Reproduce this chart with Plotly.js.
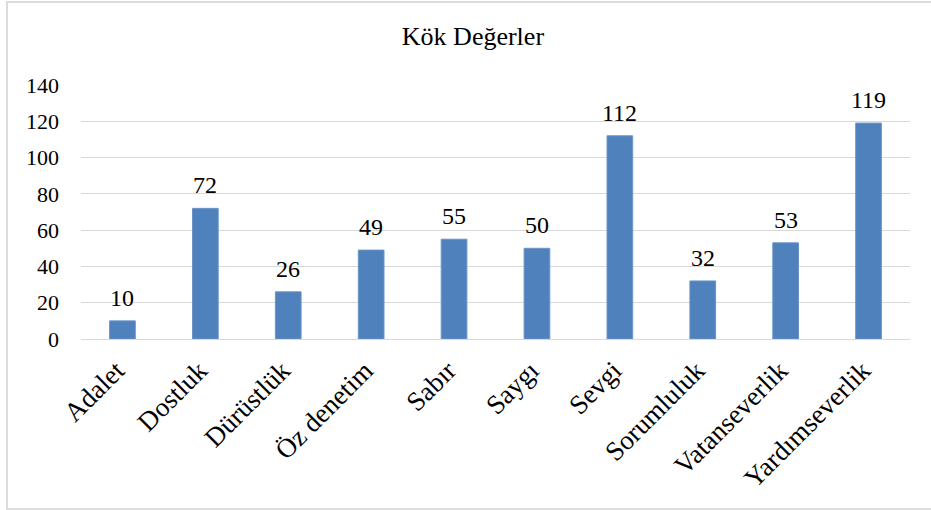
<!DOCTYPE html>
<html>
<head>
<meta charset="utf-8">
<script src="https://cdn.plot.ly/plotly-3.0.1.min.js"></script>
<style>
html,body{margin:0;padding:0;background:#fff;overflow:hidden;}
#frame{position:absolute;left:6px;top:1px;width:940px;height:509px;border:2px solid #dcdcdc;box-sizing:border-box;pointer-events:none;z-index:5;}
#chart{position:absolute;left:0;top:0;width:931px;height:510px;}
</style>
</head>
<body>
<div id="chart"></div>
<div id="frame"></div>
<script>
const categories = ["Adalet","Dostluk","Dürüstlük","Öz denetim","Sabır","Saygı","Sevgi","Sorumluluk","Vatanseverlik","Yardımseverlik"];
const values = [10,72,26,49,55,50,112,32,53,119];
const yTicks = [0,20,40,60,80,100,120,140];

const font = "Liberation Serif, Times New Roman, serif";

const labels = categories.map((c, i) => ({
  x: c, y: values[i], xref: 'x', yref: 'y',
  text: String(values[i]), showarrow: false,
  yanchor: 'bottom', yshift: 8,
  font: {family: font, size: 24, color: '#000'}
}));

Plotly.newPlot('chart', [{
  type: 'bar',
  x: categories,
  y: values,
  marker: {color: '#4f81bd', line: {color: '#6a94c8', width: 1}},
  hoverinfo: 'x+y'
}], {
  width: 931, height: 510,
  margin: {l: 81, r: 21, t: 85, b: 171},
  paper_bgcolor: '#fff', plot_bgcolor: '#fff',
  title: {text: 'Kök Değerler', font: {family: font, size: 26, color: '#000'}, xref: 'container', yref: 'container', x: 0.508, xanchor: 'center', y: 0.929, yanchor: 'middle'},
  bargap: 0.69,
  showlegend: false,
  annotations: labels,
  xaxis: {
    tickangle: -45,
    tickfont: {family: font, size: 27, color: '#000'},
    showgrid: false, zeroline: false,
    showline: true, linecolor: '#d9d9d9', linewidth: 1,
    ticks: '', ticklabelstandoff: 4, ticklabelshift: -6
  },
  yaxis: {
    range: [0, 140],
    tickvals: yTicks,
    ticktext: yTicks.map(String),
    tickfont: {family: font, size: 22, color: '#000'},
    showgrid: true, gridcolor: '#d9d9d9', gridwidth: 1,
    zeroline: false, showline: false,
    ticks: '', ticklabelstandoff: 21
  }
}, {displayModeBar: false, staticPlot: true});
</script>
</body>
</html>
